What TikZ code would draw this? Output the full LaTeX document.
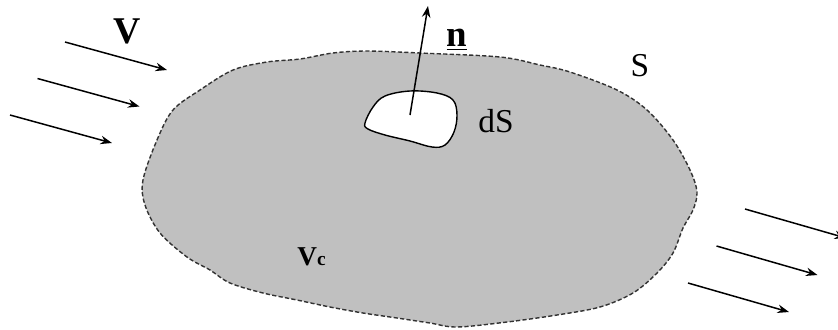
\documentclass[tikz,border=0pt]{standalone}
\usepackage{fontspec}
\setmainfont{Liberation Serif}
\usepackage{xcolor}
\usepackage{tikz}
\usetikzlibrary{arrows.meta}
\definecolor{cvgray}{RGB}{192,192,192}
\definecolor{cvedge}{RGB}{50,50,50}

\begin{document}
\begin{tikzpicture}[x=0.02cm,y=-0.02cm,
flow/.style={-{Stealth[length=2.3mm,width=1.7mm]},line width=0.85pt},
lbl/.style={inner sep=0pt,font=\fontsize{19}{22}\selectfont}]
\useasboundingbox (0,0) rectangle (838,329);
% control volume
\draw[cvedge,fill=cvgray,line width=0.8pt,dash pattern=on 2.4pt off 1.3pt]
  plot[smooth cycle,tension=0.55] coordinates {(143,180) (157,140) (173,110) (200,90) (233,70) (267,62)
  (300,59) (333,53) (367,51) (420,53) (500,57) (540,65) (570,72) (617,90) (647,110) (673,140)
  (690,170) (697,192) (693,210) (683,228) (673,253) (657,273) (633,293) (600,307) (557,315)
  (507,322) (457,327) (430,323) (397,318) (363,313) (330,307) (297,300) (263,293) (230,283)
  (210,270) (187,257) (160,233) (145,205)};
% surface element
\draw[fill=white,line width=0.8pt] plot[smooth cycle,tension=0.6] coordinates {(365,123) (373,107)
  (385,96) (410,91) (437,93) (453,100) (457,115) (454,132) (445,145) (432,147) (410,141) (385,135) (368,129)};
\coordinate (ds) at (410,115);
\coordinate (nt) at (428,6);
\draw[flow] (ds) -- (nt);
% incoming and outgoing flow
\foreach \i in {0,1,2}{
  \coordinate (in\i s) at (65-27.5*\i,42+36.5*\i);
  \coordinate (in\i e) at (167-27.5*\i,70+36.5*\i);
  \draw[flow] (in\i s) -- (in\i e);
  \coordinate (out\i s) at (745-28.5*\i,209+37*\i);
  \coordinate (out\i e) at (846-28.5*\i,238+37*\i);
  \draw[flow] (out\i s) -- (out\i e);
}
\node[lbl,font=\fontsize{21.5}{24}\bfseries] (vel) at (127,31) {V};
\node[lbl,font=\fontsize{21}{24}\bfseries] (nrm) at (457,40) {\underline{n}};
\node[lbl] (surf) at (640,66) {S};
\node[lbl] (dsl) at (496,121) {dS};
\node[lbl,anchor=base west,font=\fontsize{15.5}{18}\bfseries] (vol) at (297,265) {V{\fontsize{11}{12}\selectfont c}};
\end{tikzpicture}
\end{document}
